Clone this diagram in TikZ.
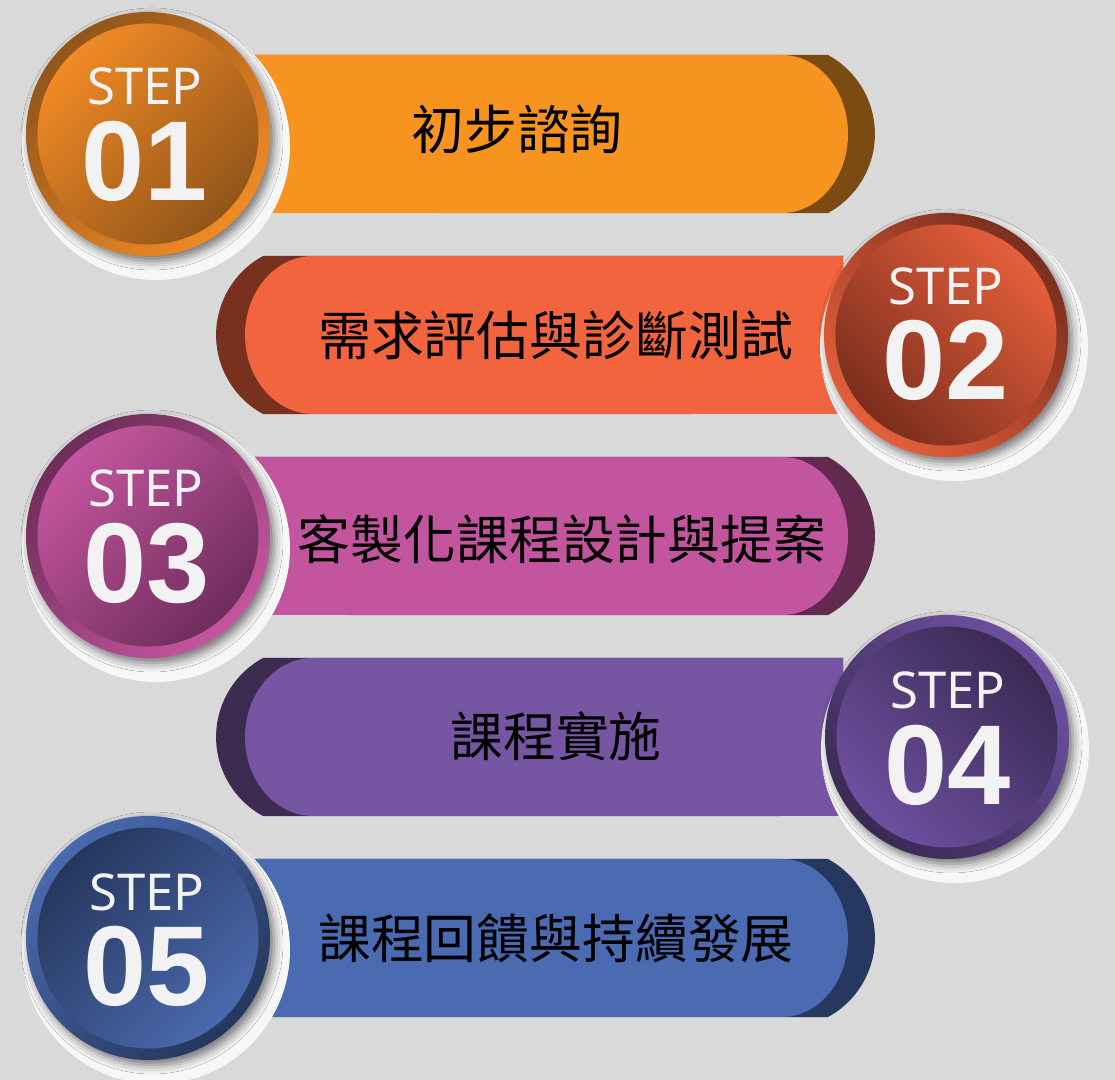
\documentclass[tikz,border=0pt]{standalone}
\usepackage{fontspec}
\setmainfont{Noto Sans}
\newfontfamily\cjk{Noto Sans CJK TC}
\newfontfamily\numfont{Liberation Sans}
\usetikzlibrary{shadows.blur}
\definecolor{bggray}{HTML}{D9D9D9}
\definecolor{stepwhite}{HTML}{F2F2F2}
\definecolor{halowhite}{HTML}{F7F7F7}
\definecolor{orangebar}{HTML}{F7931F}
\definecolor{orangedark}{HTML}{7B4B12}
\definecolor{orangelight}{HTML}{F08A25}
\definecolor{orangedeep}{HTML}{92551A}
\definecolor{coralbar}{HTML}{F1643D}
\definecolor{coraldark}{HTML}{78301F}
\definecolor{corallight}{HTML}{E55F3B}
\definecolor{coraldeep}{HTML}{7B2E1E}
\definecolor{pinkbar}{HTML}{C3559F}
\definecolor{pinkdark}{HTML}{632A50}
\definecolor{pinklight}{HTML}{C4569F}
\definecolor{pinkdeep}{HTML}{6E2D5A}
\definecolor{violetbar}{HTML}{7656A3}
\definecolor{violetdark}{HTML}{3C2C52}
\definecolor{violetlight}{HTML}{6E50A0}
\definecolor{violetdeep}{HTML}{3A2A53}
\definecolor{bluebar}{HTML}{4A6AB1}
\definecolor{bluedark}{HTML}{273860}
\definecolor{bluelight}{HTML}{4A69AE}
\definecolor{bluedeep}{HTML}{25375C}
\begin{document}
\begin{tikzpicture}[x=1bp,y=1bp,
	ring/.style={circle,inner sep=0pt,minimum size=244bp,
		blur shadow={shadow xshift=4bp,shadow yshift=-5bp,shadow blur radius=9bp,shadow opacity=55}},
	disc/.style={circle,inner sep=0pt,minimum size=221bp},
	halo/.style={fill=halowhite},
	steplbl/.style={text=stepwhite,inner sep=0pt,font=\fontsize{51}{52}\selectfont},
	stepnum/.style={text=stepwhite,inner sep=0pt,font=\numfont\fontsize{114}{114}\selectfont\bfseries},
	barlbl/.style={inner sep=0pt,font=\cjk\fontsize{53}{60}\selectfont}]
	\fill[bggray] (0,0) rectangle (1115,1080);
	\useasboundingbox (0,0) rectangle (1115,1080);
	
	% step 01
	\fill[orangedark] (240,1025) -- (828,1025) arc[start angle=61.4,end angle=-61.4,radius=90] -- (240,867) -- cycle;
	\fill[orangebar] (240,1025) -- (782,1025) arc[start angle=90,end angle=-90,x radius=66,y radius=79] -- (240,867) -- cycle;
	\coordinate (p1) at (148,946);
	\path[halo] ([shift={(8,-12)}]p1) circle (134);
	\node[ring,
	top color=orangedeep,
	bottom color=orangelight,
	shading angle=45] (c1) at (p1) {};
	\node[disc,
	top color=orangelight,
	bottom color=orangedeep,
	shading angle=45] (d1) at (c1) {};
	\node[steplbl] (s1) at ([shift={(-3,48)}]d1.center) {STEP};
	\node[stepnum] (n1) at ([shift={(-3,-27)}]d1.center) {01};
	\node[barlbl] (t1) at (517,951) {初步諮詢};
	
	% step 02
	\fill[coraldark] (843,824) -- (263,824) arc[start angle=118.6,end angle=241.4,radius=90] -- (843,666) -- cycle;
	\fill[coralbar] (843,824) -- (313,824) arc[start angle=90,end angle=270,x radius=68,y radius=79] -- (843,666) -- cycle;
	\coordinate (p2) at (946,745);
	\path[halo] ([shift={(8,-12)}]p2) circle (134);
	\node[ring,
	top color=coraldeep,
	bottom color=corallight,
	shading angle=-45] (c2) at (p2) {};
	\node[disc,
	top color=corallight,
	bottom color=coraldeep,
	shading angle=-45] (d2) at (c2) {};
	\node[steplbl] (s2) at ([shift={(0,49)}]d2.center) {STEP};
	\node[stepnum] (n2) at ([shift={(0,-25)}]d2.center) {02};
	\node[barlbl] (t2) at (556,745) {需求評估與診斷測試};
	
	% step 03
	\fill[pinkdark] (240,623) -- (828,623) arc[start angle=61.4,end angle=-61.4,radius=90] -- (240,465) -- cycle;
	\fill[pinkbar] (240,623) -- (782,623) arc[start angle=90,end angle=-90,x radius=66,y radius=79] -- (240,465) -- cycle;
	\coordinate (p3) at (148,544);
	\path[halo] ([shift={(8,-12)}]p3) circle (134);
	\node[ring,
	top color=pinkdeep,
	bottom color=pinklight,
	shading angle=45] (c3) at (p3) {};
	\node[disc,
	top color=pinklight,
	bottom color=pinkdeep,
	shading angle=45] (d3) at (c3) {};
	\node[steplbl] (s3) at ([shift={(-2,48)}]d3.center) {STEP};
	\node[stepnum] (n3) at ([shift={(-1,-27)}]d3.center) {03};
	\node[barlbl] (t3) at (562,541) {客製化課程設計與提案};
	
	% step 04
	\fill[violetdark] (843,422) -- (263,422) arc[start angle=118.6,end angle=241.4,radius=90] -- (843,264) -- cycle;
	\fill[violetbar] (843,422) -- (313,422) arc[start angle=90,end angle=270,x radius=68,y radius=79] -- (843,264) -- cycle;
	\coordinate (p4) at (947,343);
	\path[halo] ([shift={(8,-12)}]p4) circle (134);
	\node[ring,
	top color=violetlight,
	bottom color=violetdeep,
	shading angle=-45] (c4) at (p4) {};
	\node[disc,
	top color=violetdeep,
	bottom color=violetlight,
	shading angle=-45] (d4) at (c4) {};
	\node[steplbl] (s4) at ([shift={(1,47)}]d4.center) {STEP};
	\node[stepnum] (n4) at ([shift={(1,-28)}]d4.center) {04};
	\node[barlbl] (t4) at (556,344) {課程實施};
	
	% step 05
	\fill[bluedark] (240,221) -- (828,221) arc[start angle=61.4,end angle=-61.4,radius=90] -- (240,63) -- cycle;
	\fill[bluebar] (240,221) -- (782,221) arc[start angle=90,end angle=-90,x radius=66,y radius=79] -- (240,63) -- cycle;
	\coordinate (p5) at (148,142);
	\path[halo] ([shift={(8,-12)}]p5) circle (134);
	\node[ring,
	top color=bluelight,
	bottom color=bluedeep,
	shading angle=45] (c5) at (p5) {};
	\node[disc,
	top color=bluedeep,
	bottom color=bluelight,
	shading angle=45] (d5) at (c5) {};
	\node[steplbl] (s5) at ([shift={(-1,46)}]d5.center) {STEP};
	\node[stepnum] (n5) at ([shift={(-1,-28)}]d5.center) {05};
	\node[barlbl] (t5) at (556,142) {課程回饋與持續發展};
	
\end{tikzpicture}
\end{document}
